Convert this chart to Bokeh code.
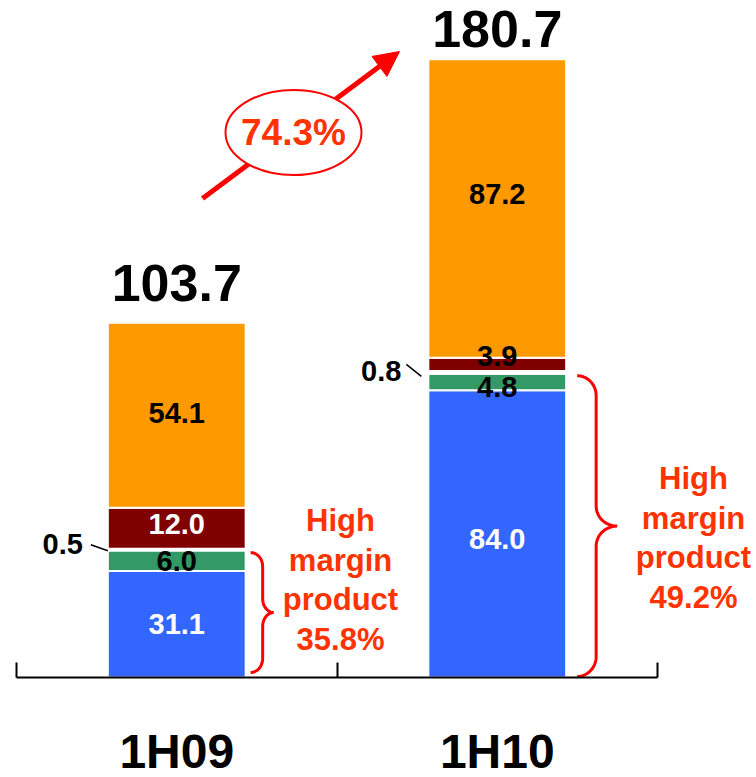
import numpy as np
from bokeh.plotting import figure
from bokeh.models import (ColumnDataSource, Range1d, LinearAxis, FixedTicker,
                          Arrow, NormalHead)
from bokeh.core.properties import value
from bokeh.embed import file_html
from bokeh.resources import INLINE

# ---- data -------------------------------------------------------------
periods = ["1H09", "1H10"]
blue_vals = [31.1, 84.0]
green_vals = [6.0, 4.8]
minor_vals = [0.5, 0.8]
red_vals = [12.0, 3.9]
orange_vals = [54.1, 87.2]
high_margin_share = ["35.8%", "49.2%"]
growth_label = "74.3%"

series = ["blue", "green", "minor", "red", "orange"]
series_vals = [blue_vals, green_vals, minor_vals, red_vals, orange_vals]
series_colors = ["#3366FF", "#339966", "#FFFFFF", "#800000", "#FF9900"]

# ---- styling ----------------------------------------------------------
FONT = value("Liberation Sans")
RED_LINE = "#FF0000"
RED_TEXT = "#FF3300"
W, H = 756, 777
PX_X = 320.5          # pixels per category
PX_Y = 3.421          # pixels per value unit
X0_PX, Y0_PX = 16, 677
BAR_W = 0.43

sx = 1.0 / PX_X
sy = 1.0 / PX_Y

xs = [0.5, 1.5]
totals = [round(sum(v[i] for v in series_vals), 1) for i in range(2)]

p = figure(width=W, height=H, output_backend="svg", toolbar_location=None,
           x_range=Range1d(-X0_PX * sx, (W - X0_PX) * sx),
           y_range=Range1d(-(H - Y0_PX) * sy, Y0_PX * sy),
           min_border=0, outline_line_color=None,
           x_axis_location=None, y_axis_location=None)
p.grid.visible = False
p.background_fill_color = "white"

# ---- stacked bars -----------------------------------------------------
src = ColumnDataSource(dict(x=xs, **{s: v for s, v in zip(series, series_vals)}))
p.vbar_stack(series, x="x", width=BAR_W, source=src, color=series_colors,
             line_color="white", line_width=2)

# ---- category axis at the baseline -----------------------------------
ax = LinearAxis(fixed_location=0)
ax.ticker = FixedTicker(ticks=xs, minor_ticks=[0, 1, 2])
ax.bounds = (0, 2)
ax.major_label_overrides = {x: lab for x, lab in zip(xs, periods)}
ax.major_tick_line_color = None
ax.minor_tick_in = 15
ax.minor_tick_out = 0
ax.minor_tick_line_width = 2
ax.minor_tick_line_color = "black"
ax.axis_line_width = 2
ax.axis_line_color = "black"
ax.major_label_text_font = "Liberation Sans"
ax.major_label_text_font_style = "bold"
ax.major_label_text_font_size = "48px"
ax.major_label_text_color = "black"
ax.major_label_standoff = 41
p.add_layout(ax, "below")

# ---- segment labels ---------------------------------------------------
lab_x, lab_y, lab_t, lab_c, lab_off = [], [], [], [], []
seg_text_colors = {
    "blue": ["white", "white"],
    "green": ["black", "black"],
    "red": ["white", "black"],
    "orange": ["black", "black"],
}
seg_offsets = {
    "blue": [0, 5],
    "green": [0, 5],
    "red": [-4, -8],
    "orange": [-2, -14],
}
cum = [0.0, 0.0]
mids = {}
for s, vals in zip(series, series_vals):
    for i in range(2):
        mids.setdefault(s, []).append(cum[i] + vals[i] / 2)
    for i in range(2):
        if s in seg_text_colors:
            lab_x.append(xs[i])
            lab_y.append(cum[i] + vals[i] / 2)
            lab_t.append(f"{vals[i]:.1f}")
            lab_c.append(seg_text_colors[s][i])
            lab_off.append(seg_offsets[s][i])
        cum[i] += vals[i]

p.text(x="x", y="y", text="t", text_color="c", y_offset="o",
       source=ColumnDataSource(dict(x=lab_x, y=lab_y, t=lab_t, c=lab_c, o=lab_off)),
       text_font=FONT, text_font_style="bold", text_font_size="29px",
       text_align="center", text_baseline="middle")

# thin segment: label to the left with a leader line
bar_left = [x - BAR_W / 2 for x in xs]
lead_start = [(-17, 5), (-22, 8)]   # px from segment anchor
lead_end = [(0, -1), (-7, -4)]
for i in range(2):
    ym = mids["minor"][i]
    p.segment(x0=[bar_left[i] + lead_start[i][0] * sx],
              y0=[ym + lead_start[i][1] * sy],
              x1=[bar_left[i] + lead_end[i][0] * sx],
              y1=[ym + lead_end[i][1] * sy],
              line_color="black", line_width=1.5)
p.text(x=bar_left, y=mids["minor"], text=[f"{v:.1f}" for v in minor_vals],
       x_offset=[-25, -27], y_offset=[-6, -1],
       text_font=FONT, text_font_style="bold", text_font_size="29px",
       text_color="black", text_align="right", text_baseline="middle")

# ---- totals -----------------------------------------------------------
p.text(x=xs, y=totals, text=[f"{t:.1f}" for t in totals], y_offset=[-40, -30],
       text_font=FONT, text_font_style="bold", text_font_size="52px",
       text_color="black", text_align="center", text_baseline="middle")

# ---- braces around the high-margin part -------------------------------
def brace(x0, y_top, y_bot, d, e, r):
    ym = (y_top + y_bot) / 2
    t = np.linspace(0, np.pi / 2, 20)
    xs_, ys_ = [], []
    xs_ += list(x0 + d * sx * np.sin(t)); ys_ += list(y_top - r * sy * (1 - np.cos(t)))
    xs_ += list(x0 + d * sx + e * sx * (1 - np.cos(t))); ys_ += list(ym + r * sy * (1 - np.sin(t)))
    tr = t[::-1]
    xs_ += list(x0 + d * sx + e * sx * (1 - np.cos(tr))); ys_ += list(ym - r * sy * (1 - np.sin(tr)))
    xs_ += list(x0 + d * sx * np.sin(tr)); ys_ += list(y_bot + r * sy * (1 - np.cos(tr)))
    return xs_, ys_

brace_style = [  # gap from bar, depth, tip length, corner radius, top/bottom inset (px)
    dict(gap=5, d=12, e=11, r=14, top=2, bot=5),
    dict(gap=11, d=19, e=21, r=20, top=2, bot=1),
]
for i in range(2):
    st = brace_style[i]
    hm = blue_vals[i] + green_vals[i]
    bx, by = brace(xs[i] + BAR_W / 2 + st["gap"] * sx,
                   hm - st["top"] * sy, st["bot"] * sy,
                   st["d"], st["e"], st["r"])
    p.line(bx, by, line_color=RED_LINE, line_width=3)

# ---- high-margin share text ------------------------------------------
note_pos = [((340 - X0_PX) * sx, (Y0_PX - 520) * sy),
            ((693 - X0_PX) * sx, (Y0_PX - 478) * sy)]
for i in range(2):
    lines = ["High", "margin", "product", high_margin_share[i]]
    p.text(x=[note_pos[i][0]] * 4, y=[note_pos[i][1]] * 4, text=lines,
           y_offset=[k * 39.5 for k in range(4)],
           text_font=FONT, text_font_style="bold", text_font_size="31px",
           text_color=RED_TEXT, text_align="center", text_baseline="middle")

# ---- growth arrow with ellipse ----------------------------------------
arrow = Arrow(x_start=(202 - X0_PX) * sx, y_start=(Y0_PX - 198) * sy,
              x_end=(399 - X0_PX) * sx, y_end=(Y0_PX - 51) * sy,
              line_color=RED_LINE, line_width=5,
              end=NormalHead(size=25, fill_color=RED_LINE, line_color=RED_LINE),
              level="underlay")
p.add_layout(arrow)

ex, ey = (293 - X0_PX) * sx, (Y0_PX - 132) * sy
p.ellipse(x=[ex], y=[ey], width=136, height=85, width_units="screen",
          height_units="screen", fill_color="white", line_color=RED_LINE,
          line_width=2)
p.text(x=[ex], y=[ey], text=[growth_label], text_font=FONT,
       text_font_style="bold", text_font_size="37px", text_color=RED_TEXT,
       text_align="center", text_baseline="middle")

open("out.html", "w").write(file_html(p, INLINE))
